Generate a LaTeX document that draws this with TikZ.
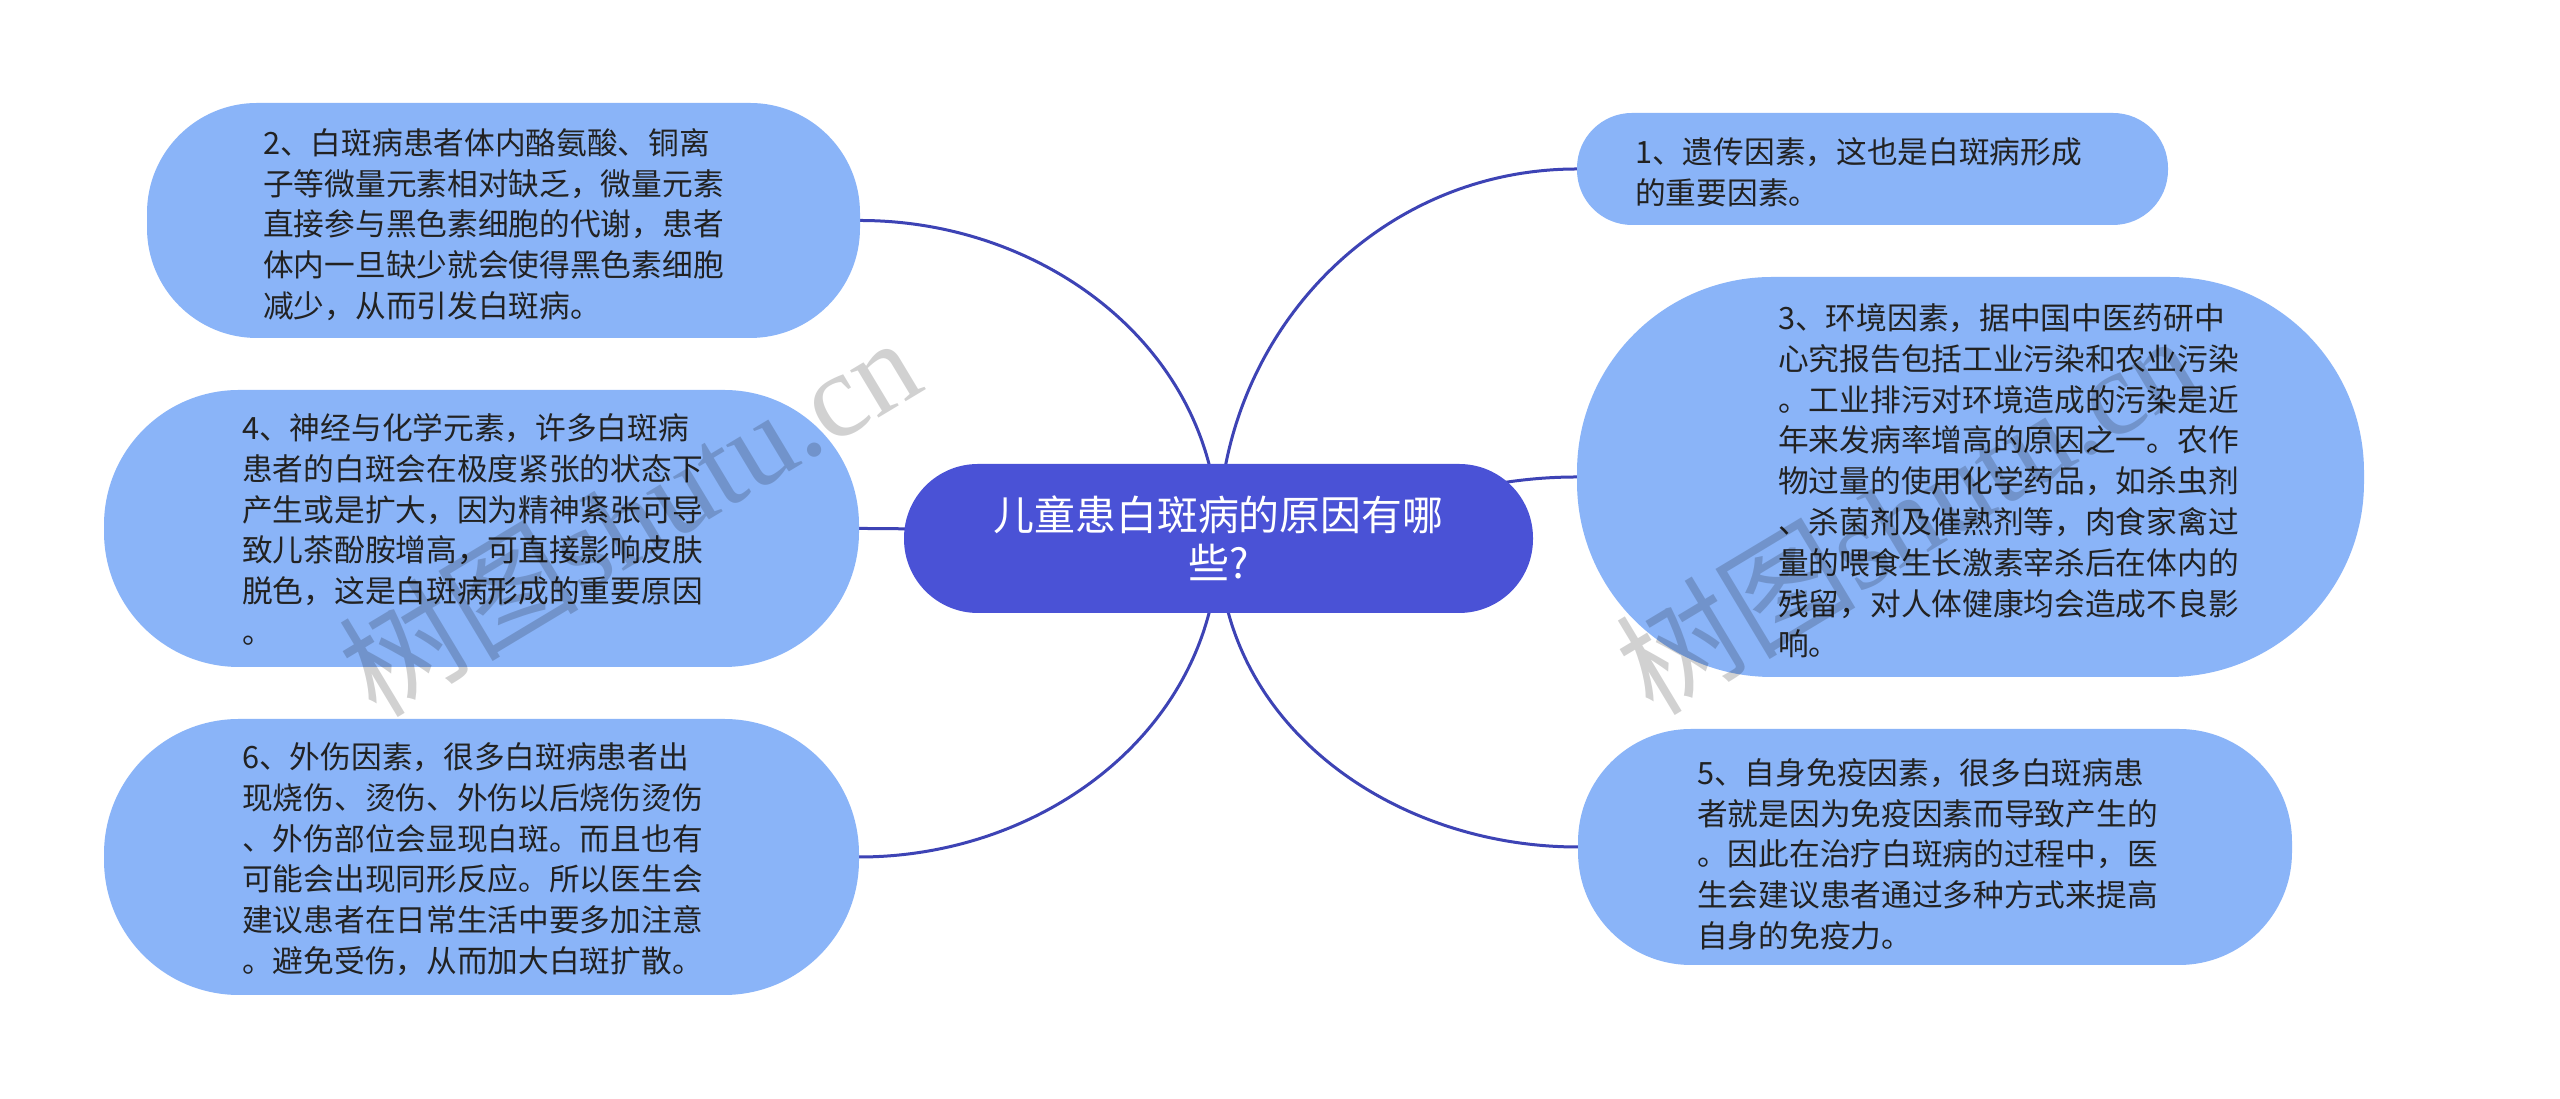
\documentclass[tikz,border=0pt]{standalone}
\usepackage{fontspec}
\newfontfamily\cjk{Noto Sans CJK SC}
\newfontfamily\wmserif{Liberation Serif}
\usetikzlibrary{backgrounds}
\definecolor{boxblue}{HTML}{8AB4F8}
\definecolor{centerblue}{HTML}{4A52D6}
\definecolor{connblue}{HTML}{3D43B5}
\definecolor{textdark}{HTML}{222222}
\begin{document}
\begin{tikzpicture}[x=1pt,y=1pt,
  box/.style={rectangle, fill=boxblue, inner sep=0pt, draw=none},
  body/.style={font=\cjk\fontsize{30.7}{40.8}\selectfont, text=textdark, align=left, anchor=base west, inner sep=0pt},
  conn/.style={draw=connblue, line width=3pt},
  wm/.style={font=\fontsize{120}{120}\selectfont, text=black, text opacity=0.18, rotate=31, anchor=base west, inner sep=0pt}]
\useasboundingbox (0,0) rectangle (2560,1099);

% centre
\node[box, fill=centerblue, minimum width=629pt, minimum height=149pt, rounded corners=74pt,
  text=white, font=\cjk\fontsize{40.9}{48}\selectfont, align=center] (c) at (1218.5,560.5)
  {儿童患白斑病的原因有哪\\些?};

% boxes
\node[box, minimum width=591pt, minimum height=112pt, rounded corners=55pt] (b1) at (1872.5,930) {};
\node[box, minimum width=713pt, minimum height=235pt, rounded corners=110pt] (b2) at (503.5,878.5) {};
\node[box, minimum width=787pt, minimum height=400pt, rounded corners=195pt] (b3) at (1970.5,622) {};
\node[box, minimum width=755pt, minimum height=277pt, rounded corners=135pt] (b4) at (481.5,570.5) {};
\node[box, minimum width=714pt, minimum height=236pt, rounded corners=113pt] (b5) at (1935,252) {};
\node[box, minimum width=755pt, minimum height=276pt, rounded corners=135pt] (b6) at (481.5,242) {};

% texts (anchor = baseline of the last line)
\node[body] (t1) at (1635,894.5) {1、遗传因素，这也是白斑病形成\\的重要因素。};
\node[body] (t2) at (263,781.5) {2、白斑病患者体内酪氨酸、铜离\\子等微量元素相对缺乏，微量元素\\直接参与黑色素细胞的代谢，患者\\体内一旦缺少就会使得黑色素细胞\\减少，从而引发白斑病。};
\node[body] (t3) at (1778,443) {3、环境因素，据中国中医药研中\\心究报告包括工业污染和农业污染\\。工业排污对环境造成的污染是近\\年来发病率增高的原因之一。农作\\物过量的使用化学药品，如杀虫剂\\、杀菌剂及催熟剂等，肉食家禽过\\量的喂食生长激素宰杀后在体内的\\残留，对人体健康均会造成不良影\\响。};
\node[body] (t4) at (242,455.5) {4、神经与化学元素，许多白斑病\\患者的白斑会在极度紧张的状态下\\产生或是扩大，因为精神紧张可导\\致儿茶酚胺增高，可直接影响皮肤\\脱色，这是白斑病形成的重要原因\\。};
\node[body] (t5) at (1697,151.5) {5、自身免疫因素，很多白斑病患\\者就是因为免疫因素而导致产生的\\。因此在治疗白斑病的过程中，医\\生会建议患者通过多种方式来提高\\自身的免疫力。};
\node[body] (t6) at (242,126.5) {6、外伤因素，很多白斑病患者出\\现烧伤、烫伤、外伤以后烧伤烫伤\\、外伤部位会显现白斑。而且也有\\可能会出现同形反应。所以医生会\\建议患者在日常生活中要多加注意\\。避免受伤，从而加大白斑扩散。};

% watermark
\node[wm] (wm1) at (376,379) {{\cjk 树图}{\wmserif shutu.cn}};
\node[wm] (wm2) at (1653,381) {{\cjk 树图}{\wmserif shutu.cn}};

\begin{scope}[on background layer]
  \fill[white] (0,0) rectangle (2560,1099);
  \draw[conn] (c.center) to[out=90,in=0] (b2.east);
  \draw[conn] (c.center) to[out=90,in=180] (b1.west);
  \draw[conn] (c.center) to[out=180,in=0] (b4.east);
  \draw[conn] (c.center) to[out=0,in=180] (b3.west);
  \draw[conn] (c.center) to[out=270,in=180] (b5.west);
  \draw[conn] (c.center) to[out=270,in=0] (b6.east);
\end{scope}
\end{tikzpicture}
\end{document}
